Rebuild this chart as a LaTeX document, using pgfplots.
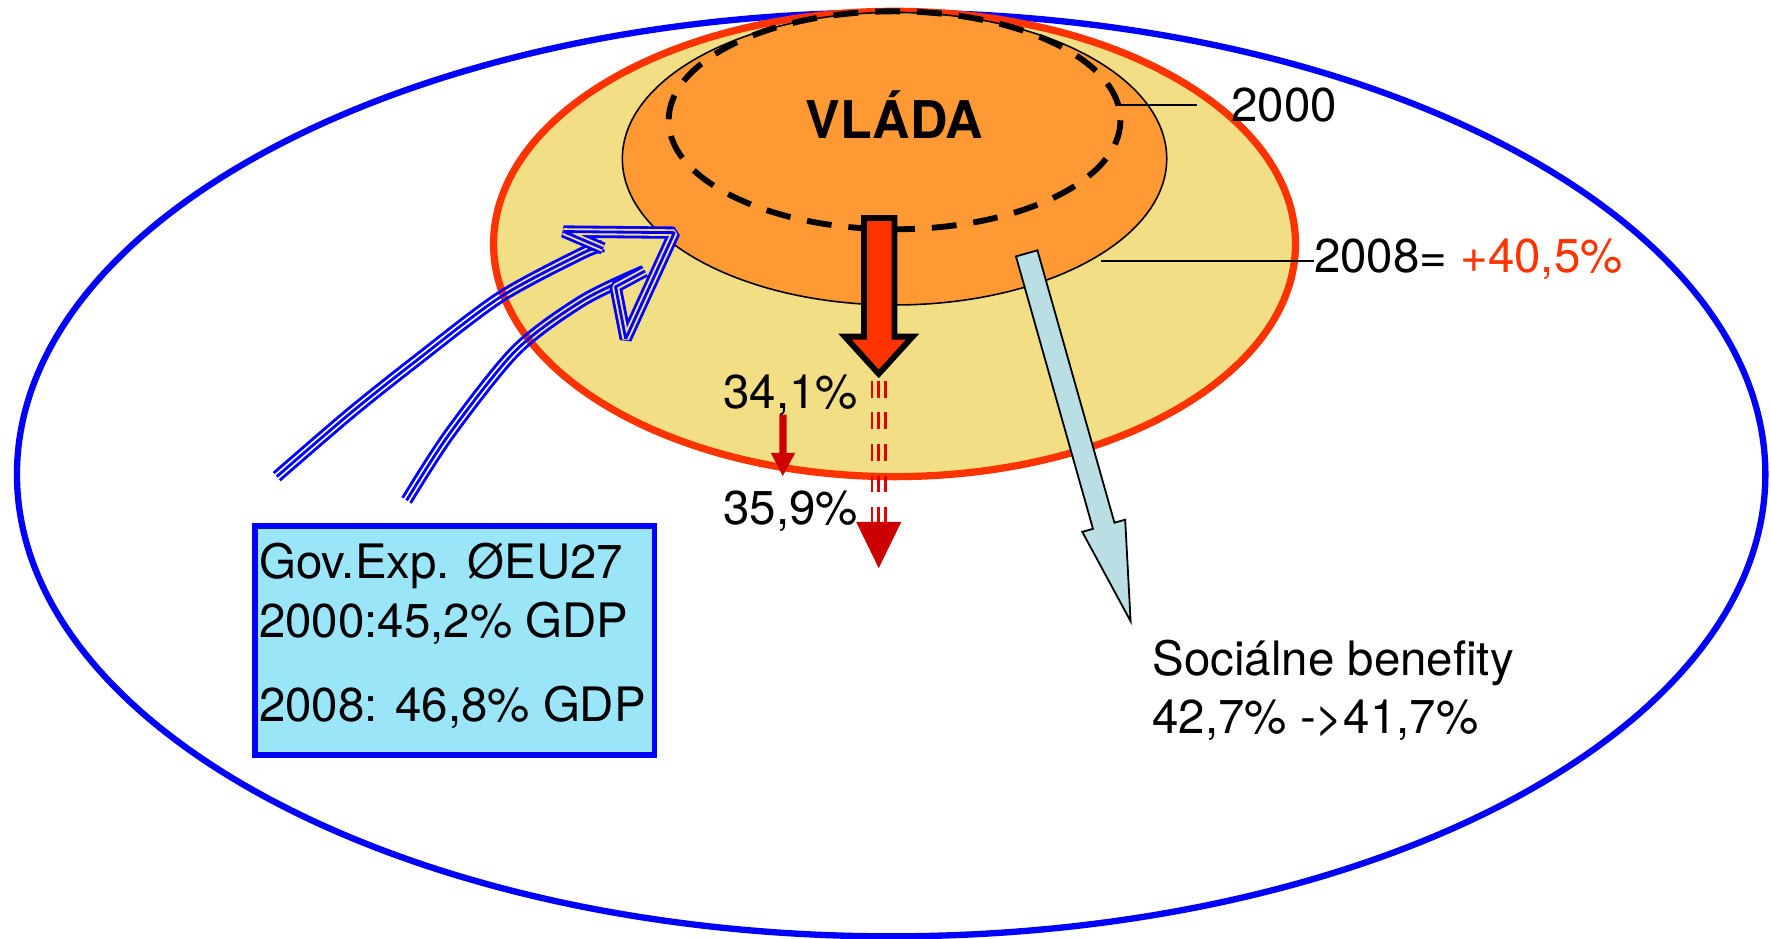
\documentclass[border=0pt]{standalone}
\usepackage{pgfplots}
\pgfplotsset{compat=1.18}
\usepackage{fontspec}
\setmainfont{TeX Gyre Heros}
\definecolor{myblue}{RGB}{0,0,255}
\definecolor{myred}{RGB}{255,51,0}
\definecolor{myyellow}{RGB}{242,222,132}
\definecolor{myorange}{RGB}{255,153,51}
\definecolor{darkred}{RGB}{204,0,0}
\definecolor{dashred}{RGB}{225,0,0}
\definecolor{lightblue}{RGB}{185,223,228}
\definecolor{boxblue}{RGB}{155,229,249}
\tikzset{lbl/.style={anchor=base west, inner sep=0pt, font=\fontsize{21}{25}\selectfont},
  tri/.style={myblue, line width=1.25pt, smooth, mark=none}}
\begin{document}
\begin{tikzpicture}
\begin{axis}[hide axis, scale only axis, width=784pt, height=415.5pt,
  xmin=0, xmax=1568, ymin=0, ymax=831, y dir=reverse, clip=true]
\path (axis cs:0,0) rectangle (axis cs:1568,831);
% outer blue ellipse
\draw[myblue, line width=2.8pt] (axis cs:789,420) ellipse [x radius=774, y radius=409];
% 2008 ellipse
\draw[myred, line width=3.2pt, fill=myyellow] (axis cs:792,216) ellipse [x radius=355, y radius=206];
% inner orange ellipse
\draw[black, line width=0.7pt, fill=myorange] (axis cs:792,140.5) ellipse [x radius=241, y radius=129.5];
% 2000 dashed ellipse
\draw[black, line width=2.6pt, dash pattern=on 11pt off 7.5pt] (axis cs:792,106.5) ellipse [x radius=200, y radius=96.5];
\node[anchor=base, inner sep=0pt, font=\bfseries\fontsize{23}{27}\selectfont] at (axis cs:792,123) {VLÁDA};
% label leader lines
\addplot[black, line width=1.1pt, mark=none] coordinates {(990,93) (1060,93)};
\addplot[black, line width=1.1pt, mark=none] coordinates {(975,231) (1163,231)};
% blue triple-line curved arrow: upper edge
\addplot[tri] coordinates {(247.7,425.2) (312.7,369.2) (371.6,322.3) (445.3,266.5) (517.9,227.8) (535.3,222.0)};
\addplot[tri] coordinates {(245,422) (310,366) (369,319) (443,263) (516,224) (534,218)};
\addplot[tri] coordinates {(242.3,418.8) (307.3,362.8) (366.4,315.7) (440.7,259.5) (514.1,220.2) (532.7,214.0)};
% lower edge
\addplot[tri] coordinates {(363.5,445.3) (401.4,386.5) (460.0,313.0) (518.2,269.6) (571.8,243.8)};
\addplot[tri] coordinates {(360,443) (398,384) (457,310) (516,266) (570,240)};
\addplot[tri] coordinates {(356.5,440.7) (394.6,381.5) (454.0,307.0) (513.8,262.4) (568.2,236.2)};
% arrow head
\addplot[myblue, line width=1.25pt, double=myyellow, double distance=2.95pt, line join=bevel, sharp plot, mark=none] coordinates {(534,220) (499,205) (597,206) (554,300) (545,254) (571,240)};
\addplot[myblue, line width=1.25pt, line join=bevel, sharp plot, mark=none] coordinates {(534,220) (499,205) (597,206) (554,300) (545,254) (571,240)};
% big red arrow
\addplot[fill=myred, draw=black, line width=2.6pt, line join=miter, mark=none] coordinates {(765,193) (792,193) (792,298) (808,298) (778,331) (748,298) (765,298)} -- cycle;
% dashed triple line
\addplot[dashred, line width=1.2pt, dash pattern=on 7.5pt off 6.5pt, mark=none] coordinates {(772,337) (772,462)};
\addplot[dashred, line width=1.2pt, dash pattern=on 7.5pt off 6.5pt, mark=none] coordinates {(778,337) (778,462)};
\addplot[dashred, line width=1.2pt, dash pattern=on 7.5pt off 6.5pt, mark=none] coordinates {(784,337) (784,462)};
\addplot[fill=darkred, draw=none, mark=none] coordinates {(758,462) (798,462) (778,503)} -- cycle;
% small red arrow
\addplot[fill=darkred, draw=none, mark=none] coordinates {(690,367) (696.5,367) (696.5,401) (704,401) (693,421.5) (682.5,401) (690,401)} -- cycle;
% light blue arrow
\addplot[fill=lightblue, draw=black, line width=0.8pt, line join=miter, mark=none] coordinates {(899.5,227) (918.5,221.6) (986.7,462.8) (996.2,460.1) (1001,550) (958.2,470.9) (967.7,468.2)} -- cycle;
% box
\addplot[fill=boxblue, draw=myblue, line width=2.6pt, mark=none] coordinates {(225.5,465.5) (579.5,465.5) (579.5,668.5) (225.5,668.5)} -- cycle;
% texts
\node[lbl] at (axis cs:1090,108) {2000};
\node[lbl] at (axis cs:1163,241) {2008= \textcolor{myred}{+40,5\%}};
\node[lbl] at (axis cs:640,362) {34,1\%};
\node[lbl] at (axis cs:640,464) {35,9\%};
\node[lbl] at (axis cs:1020,598) {Sociálne benefity};
\node[lbl] at (axis cs:1020,649) {42,7\% ->41,7\%};
\node[lbl] at (axis cs:229,512) {Gov.Exp. ØEU27};
\node[lbl] at (axis cs:229,564) {2000:45,2\% GDP};
\node[lbl] at (axis cs:229,639) {2008: 46,8\% GDP};
\end{axis}
\end{tikzpicture}
\end{document}
